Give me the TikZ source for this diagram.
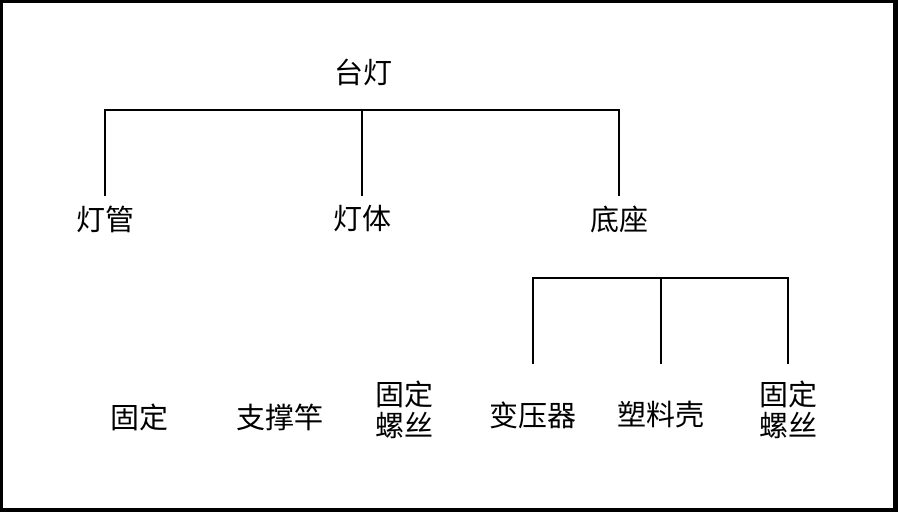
\documentclass[tikz,border=0pt]{standalone}
\usepackage{fontspec}
\newfontfamily\cjk{Noto Sans CJK SC}
\usetikzlibrary{calc}
\begin{document}
\begin{tikzpicture}[x=1pt,y=-1pt,
  lbl/.style={font=\cjk\fontsize{29}{31}\selectfont, inner sep=0pt, align=center},
  conn/.style={line width=1.6pt}]
\fill[black] (0,0) rectangle (898,512);
\fill[white] (3,3) rectangle (893,508);
\useasboundingbox (0,0) rectangle (898,512);
% nodes
\node[lbl] (root) at (363,72) {台灯};
\node[lbl] (tube) at (105,219) {灯管};
\node[lbl] (body) at (362,219) {灯体};
\node[lbl] (base) at (619,219) {底座};
\node[lbl] (fix) at (139,417) {固定};
\node[lbl] (rod) at (280,417) {支撑竿};
\node[lbl] (screwA) at (404,410) {固定\\螺丝};
\node[lbl] (trans) at (533,415) {变压器};
\node[lbl] (shell) at (661,415) {塑料壳};
\node[lbl] (screwB) at (788,410) {固定\\螺丝};
% buses
\coordinate (busA) at (363,110);
\coordinate (busB) at (660,278);
% top tree
\draw[conn] ($(tube)+(0,-23)$) -- (tube |- busA) -- (base |- busA) -- ($(base)+(0,-23)$);
\draw[conn] ($(body)+(0,-23)$) -- (body |- busA);
% base subtree
\draw[conn] ($(trans)+(0,-51)$) -- (trans |- busB) -- (screwB |- busB) -- ($(screwB)+(0,-46)$);
\draw[conn] ($(shell)+(0,-51)$) -- (shell |- busB);
\end{tikzpicture}
\end{document}
